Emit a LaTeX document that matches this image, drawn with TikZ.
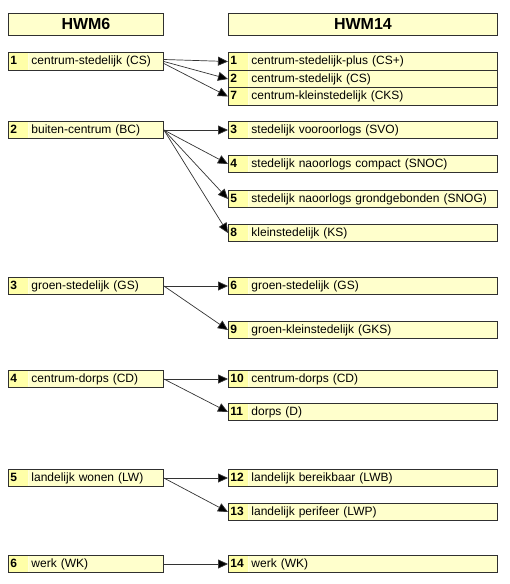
\documentclass[tikz,border=0pt]{standalone}
\usepackage{fontspec}
\setmainfont{Liberation Sans}
\usetikzlibrary{arrows.meta}

\definecolor{vakgeel}{HTML}{FFFFCC}
\definecolor{nrgeel}{HTML}{FFFFA8}
\definecolor{rand}{HTML}{303030}

\tikzset{
  klasse/.style={draw=rand, line width=0.9pt, fill=vakgeel, anchor=west,
    inner xsep=2pt, inner ysep=0pt, minimum height=17.5pt,
    text height=9pt, text depth=2.5pt, align=left,
    font=\fontsize{12}{14}\selectfont,
    path picture={
      \fill[nrgeel] (path picture bounding box.south west)
        rectangle ([xshift=20pt]path picture bounding box.north west);
      \draw[white!60!nrgeel] ([xshift=20pt]path picture bounding box.south west)
        -- ([xshift=20pt]path picture bounding box.north west);}},
  oud/.style={klasse, text width=151pt},
  nieuw/.style={klasse, text width=265pt},
  kop/.style={draw=rand, line width=0.9pt, fill=vakgeel, anchor=west,
    minimum height=22pt, inner sep=0pt,
    font=\bfseries\fontsize{16}{18}\selectfont},
  pijl/.style={draw=black!80, line width=0.7pt,
    -{Triangle[length=10pt,width=9pt,fill=black]}}
}
\newcommand{\nr}[1]{\makebox[21pt][l]{\textbf{#1}}}

\begin{document}
\begin{tikzpicture}[x=1pt, y=-1pt]
    \useasboundingbox (0,0) rectangle (510,584);

    % Koppen
    \node[kop, minimum width=155pt] (kop6) at (8,24) {HWM6};
    \node[kop, minimum width=269pt] (kop14) at (228,24) {HWM14};

    % HWM6 klassen
    \node[oud] (l1) at (8,61.5) {\nr{1}centrum-stedelijk (CS)};
    \node[oud] (l2) at (8,130) {\nr{2}buiten-centrum (BC)};
    \node[oud] (l3) at (8,286) {\nr{3}groen-stedelijk (GS)};
    \node[oud] (l4) at (8,379) {\nr{4}centrum-dorps (CD)};
    \node[oud] (l5) at (8,478) {\nr{5}landelijk wonen (LW)};
    \node[oud] (l6) at (8,564) {\nr{6}werk (WK)};

    % HWM14 klassen
    \node[nieuw] (r1) at (228,61.5) {\nr{1}centrum-stedelijk-plus (CS+)};
    \node[nieuw] (r2) at (228,79) {\nr{2}centrum-stedelijk (CS)};
    \node[nieuw] (r7) at (228,96.5) {\nr{7}centrum-kleinstedelijk (CKS)};
    \node[nieuw] (r3) at (228,130) {\nr{3}stedelijk vooroorlogs (SVO)};
    \node[nieuw] (r4) at (228,164) {\nr{4}stedelijk naoorlogs compact (SNOC)};
    \node[nieuw] (r5) at (228,199) {\nr{5}stedelijk naoorlogs grondgebonden (SNOG)};
    \node[nieuw] (r8) at (228,233) {\nr{8}kleinstedelijk (KS)};
    \node[nieuw] (r6) at (228,286) {\nr{6}groen-stedelijk (GS)};
    \node[nieuw] (r9) at (228,330) {\nr{9}groen-kleinstedelijk (GKS)};
    \node[nieuw] (r10) at (228,379) {\nr{10}centrum-dorps (CD)};
    \node[nieuw] (r11) at (228,412) {\nr{11}dorps (D)};
    \node[nieuw] (r12) at (228,478) {\nr{12}landelijk bereikbaar (LWB)};
    \node[nieuw] (r13) at (228,512) {\nr{13}landelijk perifeer (LWP)};
    \node[nieuw] (r14) at (228,564) {\nr{14}werk (WK)};

    % Overgangen
    \draw[pijl] ([yshift=2pt]l1.east) -- (r1.west);
    \draw[pijl] (l1.east) -- (r2.west);
    \draw[pijl] ([yshift=-2pt]l1.east) -- (r7.west);
    \draw[pijl] (l2.east) -- (r3.west);
    \draw[pijl] (l2.east) -- (r4.west);
    \draw[pijl] (l2.east) -- (r5.west);
    \draw[pijl] (l2.east) -- (r8.west);
    \draw[pijl] (l3.east) -- (r6.west);
    \draw[pijl] (l3.east) -- (r9.west);
    \draw[pijl] (l4.east) -- (r10.west);
    \draw[pijl] (l4.east) -- (r11.west);
    \draw[pijl] (l5.east) -- (r12.west);
    \draw[pijl] (l5.east) -- (r13.west);
    \draw[pijl] (l6.east) -- (r14.west);
\end{tikzpicture}
\end{document}
